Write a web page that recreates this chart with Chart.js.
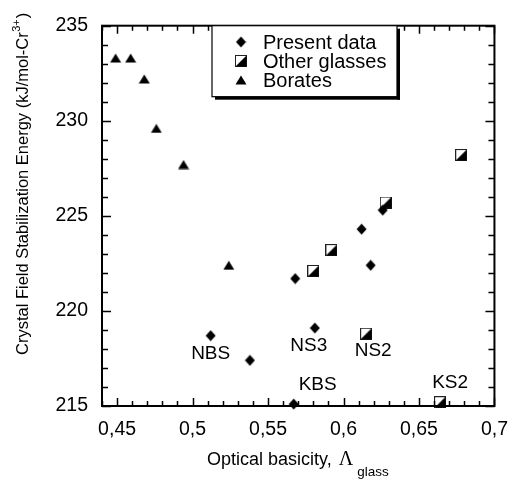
<!DOCTYPE html>
<html>
<head>
<meta charset="utf-8">
<script src="https://cdn.jsdelivr.net/npm/chart.js@4.4.0/dist/chart.umd.min.js"></script>
<style>
  html, body { margin: 0; padding: 0; background: #fff; }
</style>
</head>
<body>
<canvas id="chart" width="520" height="479"></canvas>
<script>
// values
var xTicks = [0.45, 0.5, 0.55, 0.6, 0.65, 0.7];
var yTicks = [215, 220, 225, 230, 235];
var seriesNames = ["Present data", "Other glasses", "Borates"];

var presentX = [0.512, 0.538, 0.568, 0.581, 0.612, 0.626, 0.618, 0.567];
var presentY = [218.7, 217.4, 221.7, 219.1, 224.3, 225.3, 222.4, 215.1];
var otherX = [0.580, 0.592, 0.628, 0.678, 0.615, 0.664];
var otherY = [222.1, 223.2, 225.7, 228.2, 218.8, 215.2];
var borateX = [0.449, 0.459, 0.468, 0.476, 0.494, 0.524];
var borateY = [233.3, 233.3, 232.2, 229.6, 227.7, 222.4];

// sample names and the point each one belongs to
var labelText = ["NBS", "NS3", "KBS", "NS2", "KS2"];
var labelSeries = [0, 0, 0, 1, 1];
var labelPoint = [0, 3, 7, 4, 5];

var FONT = "'Liberation Sans', Arial, sans-serif";
var SERIF = "'Liberation Serif', 'Times New Roman', serif";
Chart.defaults.font.family = FONT;
Chart.defaults.color = '#000';

function toPoints(xs, ys) {
  return xs.map(function(x, i) { return {x: x, y: ys[i]}; });
}

// marker images
function markerCanvas(w, h, draw) {
  var c = document.createElement('canvas');
  c.width = w; c.height = h;
  draw(c.getContext('2d'));
  return c;
}
var diamond = markerCanvas(11, 12, function(g) {
  g.fillStyle = '#000';
  g.beginPath();
  g.moveTo(5.5, 0.5); g.lineTo(10.5, 6); g.lineTo(5.5, 11.5); g.lineTo(0.5, 6);
  g.closePath(); g.fill();
});
var triangle = markerCanvas(12, 10, function(g) {
  g.fillStyle = '#000';
  g.beginPath();
  g.moveTo(6, 0.5); g.lineTo(11.5, 9.5); g.lineTo(0.5, 9.5);
  g.closePath(); g.fill();
});
var halfSquare = markerCanvas(12, 12, function(g) {
  g.fillStyle = '#fff';
  g.fillRect(0, 0, 12, 12);
  g.strokeStyle = '#222';
  g.lineWidth = 1;
  g.strokeRect(0.5, 0.5, 11, 11);
  g.fillStyle = '#000';
  g.beginPath();
  g.moveTo(11.5, 0.5); g.lineTo(11.5, 11.5); g.lineTo(0.5, 11.5);
  g.closePath(); g.fill();
});
var markers = [diamond, halfSquare, triangle];

var labelOffset = [[0, 18], [-6, 18], [24, -19], [7, 17], [10, -19]];

var decor = {
  id: 'decor',
  afterDatasetsDraw: function(chart) {
    var ctx = chart.ctx, a = chart.chartArea;
    var xs = chart.scales.x, ys = chart.scales.y;
    ctx.save();
    // frame
    ctx.strokeStyle = '#000';
    ctx.lineWidth = 2;
    ctx.strokeRect(a.left, a.top, a.right - a.left, a.bottom - a.top);
    // tick marks on all four sides, pointing in
    ctx.lineWidth = 1.5;
    ctx.beginPath();
    for (var i = 44; i <= 70; i++) {
      var px = Math.round(xs.getPixelForValue(i / 100)) + 0.5;
      var len = (i % 5 === 0) ? 8 : 5;
      ctx.moveTo(px, a.bottom); ctx.lineTo(px, a.bottom - len);
      ctx.moveTo(px, a.top); ctx.lineTo(px, a.top + len);
    }
    for (var j = 215; j <= 235; j++) {
      var py = Math.round(ys.getPixelForValue(j)) + 0.5;
      var l2 = (j % 5 === 0) ? 9 : 6;
      ctx.moveTo(a.left, py); ctx.lineTo(a.left + l2, py);
      ctx.moveTo(a.right, py); ctx.lineTo(a.right - l2, py);
    }
    ctx.stroke();

    // sample labels
    ctx.fillStyle = '#000';
    ctx.font = '19px ' + FONT;
    ctx.textAlign = 'center';
    ctx.textBaseline = 'middle';
    labelText.forEach(function(t, k) {
      var el = chart.getDatasetMeta(labelSeries[k]).data[labelPoint[k]];
      ctx.fillText(t, el.x + labelOffset[k][0], el.y + labelOffset[k][1]);
    });

    // legend box
    var bx = 212, by = a.top, bw = 185, bh = 71;
    ctx.fillStyle = '#fff';
    ctx.fillRect(bx, by, bw, bh);
    ctx.fillStyle = '#000';
    ctx.fillRect(bx + 3, by + bh, bw, 3);
    ctx.fillRect(bx + bw, by + 3, 3, bh);
    ctx.lineWidth = 1.2;
    ctx.strokeRect(bx, by, bw, bh);
    ctx.font = '20px ' + FONT;
    ctx.textAlign = 'left';
    seriesNames.forEach(function(n, k) {
      var ry = 42 + k * 19;
      var m = markers[k];
      ctx.drawImage(m, 241 - m.width / 2, ry - m.height / 2);
      ctx.fillText(n, 263, ry + 1);
    });

    // y title
    ctx.save();
    ctx.translate(28, 355);
    ctx.rotate(-Math.PI / 2);
    ctx.textBaseline = 'alphabetic';
    ctx.font = '16.5px ' + FONT;
    var t1 = 'Crystal Field Stabilization Energy (kJ/mol-Cr';
    ctx.fillText(t1, 0, 0);
    var w1 = ctx.measureText(t1).width;
    ctx.font = '11px ' + FONT;
    ctx.fillText('3+', w1 + 0.5, -8);
    var w2 = ctx.measureText('3+').width;
    ctx.font = '16.5px ' + FONT;
    ctx.fillText(')', w1 + w2 + 1.5, 0);
    ctx.restore();

    // x title
    ctx.textBaseline = 'alphabetic';
    ctx.font = '18px ' + FONT;
    var s1 = 'Optical basicity, ';
    var sw1 = ctx.measureText(s1).width;
    var x0 = a.left + 105;
    ctx.fillText(s1, x0, 465);
    ctx.font = '20px ' + SERIF;
    var sw2 = ctx.measureText('\u039B').width;
    ctx.fillText('\u039B', x0 + sw1 + 2, 465);
    ctx.font = '13.5px ' + FONT;
    ctx.fillText('glass', x0 + sw1 + sw2 + 6, 476);
    ctx.restore();
  }
};

new Chart(document.getElementById('chart'), {
  type: 'scatter',
  data: {
    datasets: [
      { label: seriesNames[0], data: toPoints(presentX, presentY), pointStyle: diamond, clip: false },
      { label: seriesNames[1], data: toPoints(otherX, otherY), pointStyle: halfSquare, clip: false },
      { label: seriesNames[2], data: toPoints(borateX, borateY), pointStyle: triangle, clip: false }
    ]
  },
  options: {
    responsive: false,
    animation: false,
    events: [],
    layout: { padding: { top: 25, right: 15, left: 0, bottom: 0 } },
    plugins: { legend: { display: false }, tooltip: { enabled: false } },
    scales: {
      x: {
        type: 'linear', min: 0.44, max: 0.70,
        afterBuildTicks: function(s) { s.ticks = xTicks.map(function(v) { return {value: v}; }); },
        afterFit: function(s) { s.height = 73; },
        grid: { display: false, drawTicks: false },
        border: { display: false },
        ticks: {
          padding: 12, color: '#000', font: { size: 19.5 }, maxRotation: 0, autoSkip: false,
          callback: function(v) { return String(v).replace('.', ','); }
        }
      },
      y: {
        type: 'linear', min: 215, max: 235,
        afterBuildTicks: function(s) { s.ticks = yTicks.map(function(v) { return {value: v}; }); },
        afterFit: function(s) { s.width = 102; },
        grid: { display: false, drawTicks: false },
        border: { display: false },
        ticks: { padding: 14, color: '#000', font: { size: 19.5 }, autoSkip: false }
      }
    }
  },
  plugins: [decor]
});
</script>
</body>
</html>
